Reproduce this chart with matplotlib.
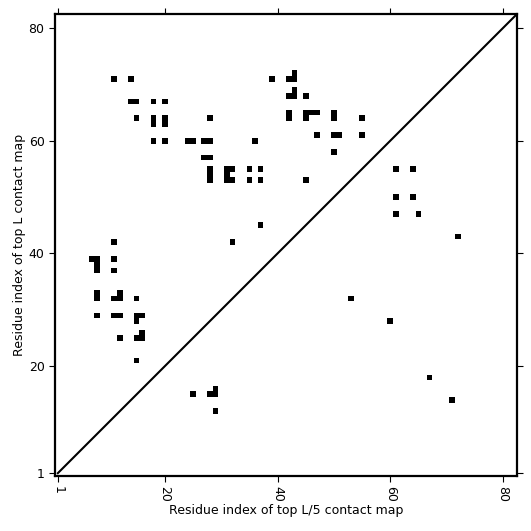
import numpy as np
import matplotlib
matplotlib.use("Agg")
import matplotlib.pyplot as plt

# sequence length
L = 82

# top L contacts: residue pairs (i < j), drawn above the diagonal at (x=i, y=j)
topL_i = [11, 14, 39, 42, 43, 43, 14, 15, 18, 20, 43, 42, 43, 45,
          15, 18, 20, 28, 42, 45, 50, 55, 42, 45, 46, 47, 50, 18, 20,
          47, 50, 51, 55, 18, 20, 24, 25, 27, 28, 36, 50, 27, 28,
          28, 31, 32, 35, 37, 28, 31, 28, 31, 32, 35, 37, 45, 37,
          11, 32, 7, 8, 11, 8, 8, 11, 8, 12, 8, 11, 12, 15,
          8, 11, 12, 15, 16, 15, 16, 12, 15, 16, 15]
topL_j = [71, 71, 71, 71, 71, 72, 67, 67, 67, 67, 69, 68, 68, 68,
          64, 64, 64, 64, 64, 64, 64, 64, 65, 65, 65, 65, 65, 63, 63,
          61, 61, 61, 61, 60, 60, 60, 60, 60, 60, 60, 58, 57, 57,
          55, 55, 55, 55, 55, 54, 54, 53, 53, 53, 53, 53, 53, 45,
          42, 42, 39, 39, 39, 38, 37, 37, 33, 33, 32, 32, 32, 32,
          29, 29, 29, 29, 29, 28, 26, 25, 25, 25, 21]

# top L/5 contacts: residue pairs (i < j), drawn below the diagonal at (x=j, y=i)
topL5_i = [14, 18, 43, 47, 47, 50, 50, 55, 55, 32, 28, 15, 15, 15, 16, 12]
topL5_j = [71, 67, 72, 65, 61, 64, 61, 64, 61, 53, 60, 25, 28, 29, 29, 29]

ticks = [1, 20, 40, 60, 80]

cmap = np.zeros((L, L))
for i, j in zip(topL_i, topL_j):
    cmap[j - 1, i - 1] = 1
for i, j in zip(topL5_i, topL5_j):
    cmap[i - 1, j - 1] = 1

fig = plt.figure(figsize=(5.31, 5.31), dpi=100)
ax = fig.add_axes([0.1036, 0.1036, 0.87, 0.87])
ax.imshow(cmap, cmap="Greys", vmin=0, vmax=1, origin="lower",
          interpolation="nearest", extent=(0.5, L + 0.5, 0.5, L + 0.5))
ax.plot([1, L + 1], [1, L + 1], color="black", lw=1.5)
ax.set_xlim(0.5, L + 0.5)
ax.set_ylim(0.5, L + 0.5)
ax.set_aspect("auto")

ax.set_xticks(ticks)
ax.set_yticks(ticks)
ax.set_xticklabels([str(t) for t in ticks], rotation=-90)
ax.tick_params(direction="out", length=4, width=0.8, labelsize=9,
               top=True, right=True)
for s in ax.spines.values():
    s.set_linewidth(1.6)

ax.set_xlabel("Residue index of top L/5 contact map", fontsize=9, labelpad=1)
ax.set_ylabel("Residue index of top L contact map", fontsize=9, labelpad=2)

fig.savefig("out.png", dpi=100)
